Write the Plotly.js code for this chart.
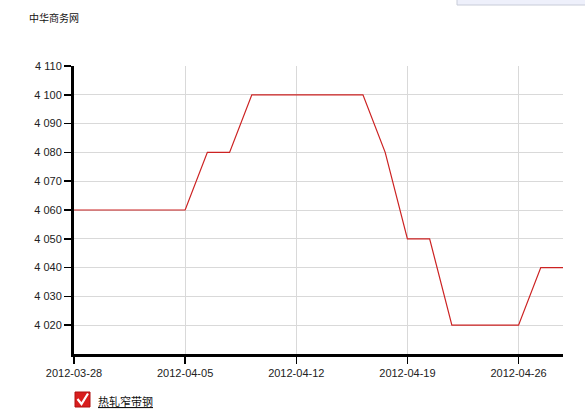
<!DOCTYPE html>
<html>
<head>
<meta charset="utf-8">
<script src="https://cdn.plot.ly/plotly-3.0.1.min.js"></script>
<style>
html,body{margin:0;padding:0;background:#fff;}
#chart{width:585px;height:417px;}
</style>
</head>
<body>
<div id="chart"></div>
<script>
var dates = ["2012-03-28","2012-03-29","2012-03-30","2012-03-31","2012-04-01","2012-04-05",
             "2012-04-06","2012-04-09","2012-04-10","2012-04-11","2012-04-12",
             "2012-04-13","2012-04-16","2012-04-17","2012-04-18","2012-04-19",
             "2012-04-20","2012-04-23","2012-04-24","2012-04-25","2012-04-26",
             "2012-04-27","2012-04-28"];
var prices = [4060,4060,4060,4060,4060,4060,
              4080,4080,4100,4100,4100,
              4100,4100,4100,4080,4050,
              4050,4020,4020,4020,4020,
              4040,4040];
var tickDates = ["2012-03-28","2012-04-05","2012-04-12","2012-04-19","2012-04-26"];
var yTicks = [4020,4030,4040,4050,4060,4070,4080,4090,4100,4110];
var seriesName = "热轧窄带钢";
var sourceTitle = "中华商务网";

var trace = {
  x: dates, y: prices, type: "scatter", mode: "lines", name: seriesName,
  line: {color: "#cc2222", width: 1.2}, showlegend: false
};

// paper coordinates helpers for decoration (plot area 74..563 x, 66..354 y)
var L = 74, R = 563, T = 66, B = 354;
function px(x){ return (x - L) / (R - L); }
function py(y){ return (B - y) / (B - T); }

var layout = {
  width: 585, height: 417,
  margin: {l: L, r: 585 - R, t: T, b: 417 - B, pad: 0},
  paper_bgcolor: "#fff", plot_bgcolor: "#fff",
  separators: ". ",
  font: {family: "Arial, 'Liberation Sans', sans-serif", size: 11, color: "#222"},
  xaxis: {
    type: "category", range: [0, 22],
    tickmode: "array", tickvals: tickDates, ticktext: tickDates,
    showgrid: true, gridcolor: "#d9d9d9", gridwidth: 1,
    showline: true, linecolor: "#000", linewidth: 3,
    ticks: "outside", ticklen: 7, tickwidth: 1.5, tickcolor: "#000",
    tickfont: {size: 11, color: "#222"}, zeroline: false, fixedrange: true
  },
  yaxis: {
    range: [4010, 4110],
    tickmode: "array", tickvals: yTicks,
    separatethousands: true, tickformat: ",d",
    showgrid: true, gridcolor: "#d9d9d9", gridwidth: 1,
    showline: true, linecolor: "#000", linewidth: 3,
    ticks: "outside", ticklen: 7, tickwidth: 1.5, tickcolor: "#000",
    tickfont: {size: 11, color: "#222"}, zeroline: false, fixedrange: true
  },
  annotations: [
    {text: sourceTitle, xref: "paper", yref: "paper", x: px(27), y: py(17),
     xanchor: "left", yanchor: "middle", showarrow: false,
     font: {family: "'Noto Sans CJK SC', sans-serif", size: 10, color: "#111"}},
    {text: "<u>" + seriesName + "</u>", xref: "paper", yref: "paper", x: px(96), y: py(401),
     xanchor: "left", yanchor: "middle", showarrow: false,
     font: {family: "'Noto Sans CJK SC', sans-serif", size: 11, color: "#111"}}
  ],
  shapes: [
    {type: "rect", xref: "paper", yref: "paper", x0: px(75), x1: px(90), y0: py(392), y1: py(407),
     fillcolor: "#d81e1e", line: {color: "#b01010", width: 1}, layer: "above"},
    {type: "path", xref: "paper", yref: "paper",
     path: "M " + px(77.5) + "," + py(399) + " L " + px(81.5) + "," + py(404) + " L " + px(88) + "," + py(393.5),
     line: {color: "#fff", width: 2.2}, layer: "above"},
    {type: "rect", xref: "paper", yref: "paper", x0: px(457), x1: px(590), y0: py(-5), y1: py(5),
     fillcolor: "#eef0fb", line: {color: "#c8ccd8", width: 1}, layer: "above"}
  ]
};

Plotly.newPlot("chart", [trace], layout, {displayModeBar: false, staticPlot: true});
</script>
</body>
</html>
